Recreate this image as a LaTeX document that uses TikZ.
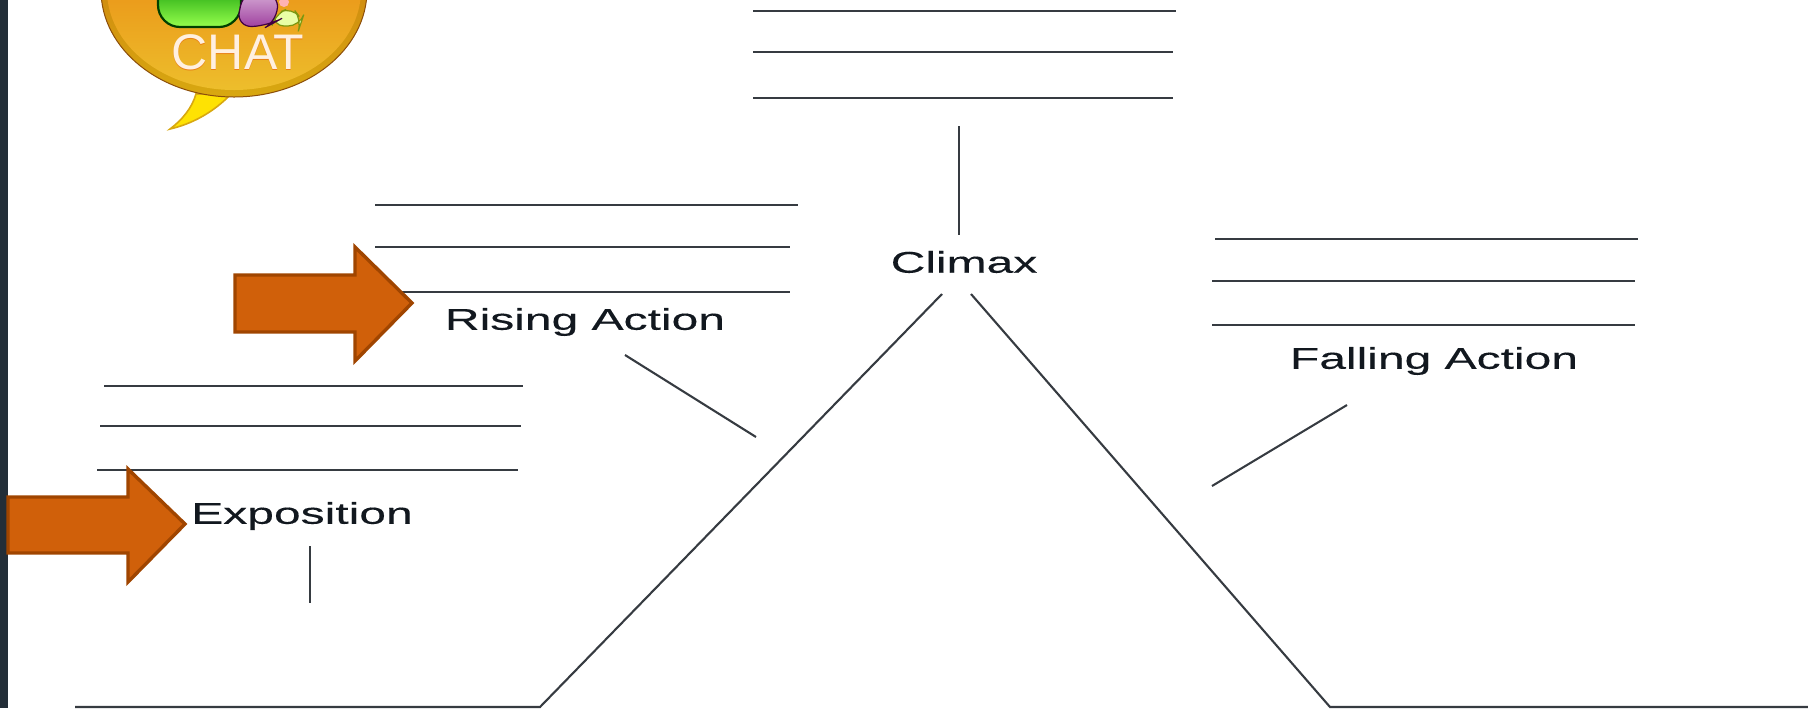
\documentclass[tikz,border=0pt]{standalone}
\usepackage{fontspec}
\setmainfont{Liberation Sans}
\newfontfamily\stretchfont[FakeStretch=1.6,FakeBold=0.25]{Liberation Sans}
\definecolor{bandgray}{HTML}{232E38}
\definecolor{arrowfill}{HTML}{D0600A}
\definecolor{arroweedge}{HTML}{A04500}
\definecolor{inkblack}{HTML}{12181F}
\definecolor{bubbletop}{HTML}{E87408}
\definecolor{bubblelow}{HTML}{EDBE2C}
\definecolor{ringtop}{HTML}{C8700F}
\definecolor{ringlow}{HTML}{D8A810}
\tikzset{
  plotline/.style={line width=1.05pt,color=inkblack!85},
  plotlabel/.style={font=\stretchfont\fontsize{15}{18}\selectfont,text=inkblack,inner sep=0pt},
  bigarrow/.style={fill=arrowfill,draw=arroweedge,line width=1.7pt,line join=miter}
}
\begin{document}
\begin{tikzpicture}[x=0.5pt,y=-0.5pt]
    \useasboundingbox (0,0) rectangle (1808,708);

    % dark band on the left
    \fill[bandgray] (0,0) rectangle (8,708);

    % chat logo
    \begin{scope}
      \clip (0,0) rectangle (420,150);
      \fill[color=yellow!85!orange,draw=ringlow,line width=0.8pt] (196,94) .. controls (192,108) and (182,120) .. (170,129) .. controls (192,124) and (214,112) .. (231,94) -- cycle;
      \shade[middle color=ringtop,bottom color=ringlow,top color=ringtop,draw=ringtop!70!black,line width=0.5pt] (234,-10) ellipse [x radius=133,y radius=107];
      \shade[top color=bubbletop,middle color=bubbletop,bottom color=bubblelow] (234,-10) ellipse [x radius=127,y radius=100];
      \shade[top color=green!55!black,bottom color=green!45!lime!70!white,draw=green!25!black,line width=1.1pt,rounded corners=11pt] (158,-25) rectangle (241,27);
      \filldraw[fill=lime!35!white,draw=olive!70!green,line width=0.6pt,rounded corners=6pt] (272,26) -- (275,14) -- (292,7) -- (302,20) -- (300,26) -- cycle;
      \shade[top color=violet!30!white,bottom color=violet!75!white,draw=violet!50!black,line width=0.6pt,rounded corners=8pt] (236,27) -- (244,-10) -- (276,-10) -- (279,20) -- (268,26) -- cycle;
      \fill[red!30!white] (284,2) circle [radius=5];
    \end{scope}
    \node[inner sep=0pt,font=\fontsize{25}{25}\selectfont,text=orange!65!brown] (chatback) at (238,53.5) {CHAT};
    \node[inner sep=0pt,font=\fontsize{25}{25}\selectfont,text=orange!12!white] (chatfront) at (238,52) {CHAT};

    % writing lines
    \foreach \xa/\xb/\y in {753/1176/11,753/1173/52,753/1173/98,
                            375/798/205,375/790/247,402/790/292,
                            104/523/386,100/521/426,97/518/470,
                            1215/1638/239,1212/1635/281,1212/1635/325}
    \draw[plotline] (\xa,\y) -- (\xb,\y);

    % plot line
    \coordinate (startpt) at (75,707);
    \coordinate (leftfoot) at (540,707);
    \coordinate (lefttop) at (942,294);
    \coordinate (righttop) at (971,294);
    \coordinate (rightfoot) at (1330,707);
    \coordinate (endpt) at (1808,707);
    \draw[plotline] (startpt) -- (leftfoot) -- (lefttop);
    \draw[plotline] (righttop) -- (rightfoot) -- (endpt);

    % labels
    \node[plotlabel] (climax) at (964,262) {Climax};
    \node[plotlabel] (rising) at (585,322) {Rising Action};
    \node[plotlabel] (falling) at (1434,361) {Falling Action};
    \node[plotlabel] (expo) at (302,516) {Exposition};

    % pointers
    \coordinate (climaxup) at (959,126);
    \coordinate (climaxdown) at (959,235);
    \coordinate (risingfrom) at (625,355);
    \coordinate (risingto) at (756,437);
    \coordinate (fallingfrom) at (1347,405);
    \coordinate (fallingto) at (1212,486);
    \coordinate (expofrom) at (310,546);
    \coordinate (expoto) at (310,603);
    \draw[plotline] (climaxup) -- (climaxdown);
    \draw[plotline] (risingfrom) -- (risingto);
    \draw[plotline] (fallingfrom) -- (fallingto);
    \draw[plotline] (expofrom) -- (expoto);

    % orange arrows
    \draw[bigarrow] (235,275) -- (355,275) -- (355,247) -- (412,303) -- (355,361) -- (355,332) -- (235,332) -- cycle;
    \draw[bigarrow] (8,497) -- (128,497) -- (128,469) -- (185,524) -- (128,582) -- (128,553) -- (8,553) -- cycle;

  \end{tikzpicture}
\end{document}
